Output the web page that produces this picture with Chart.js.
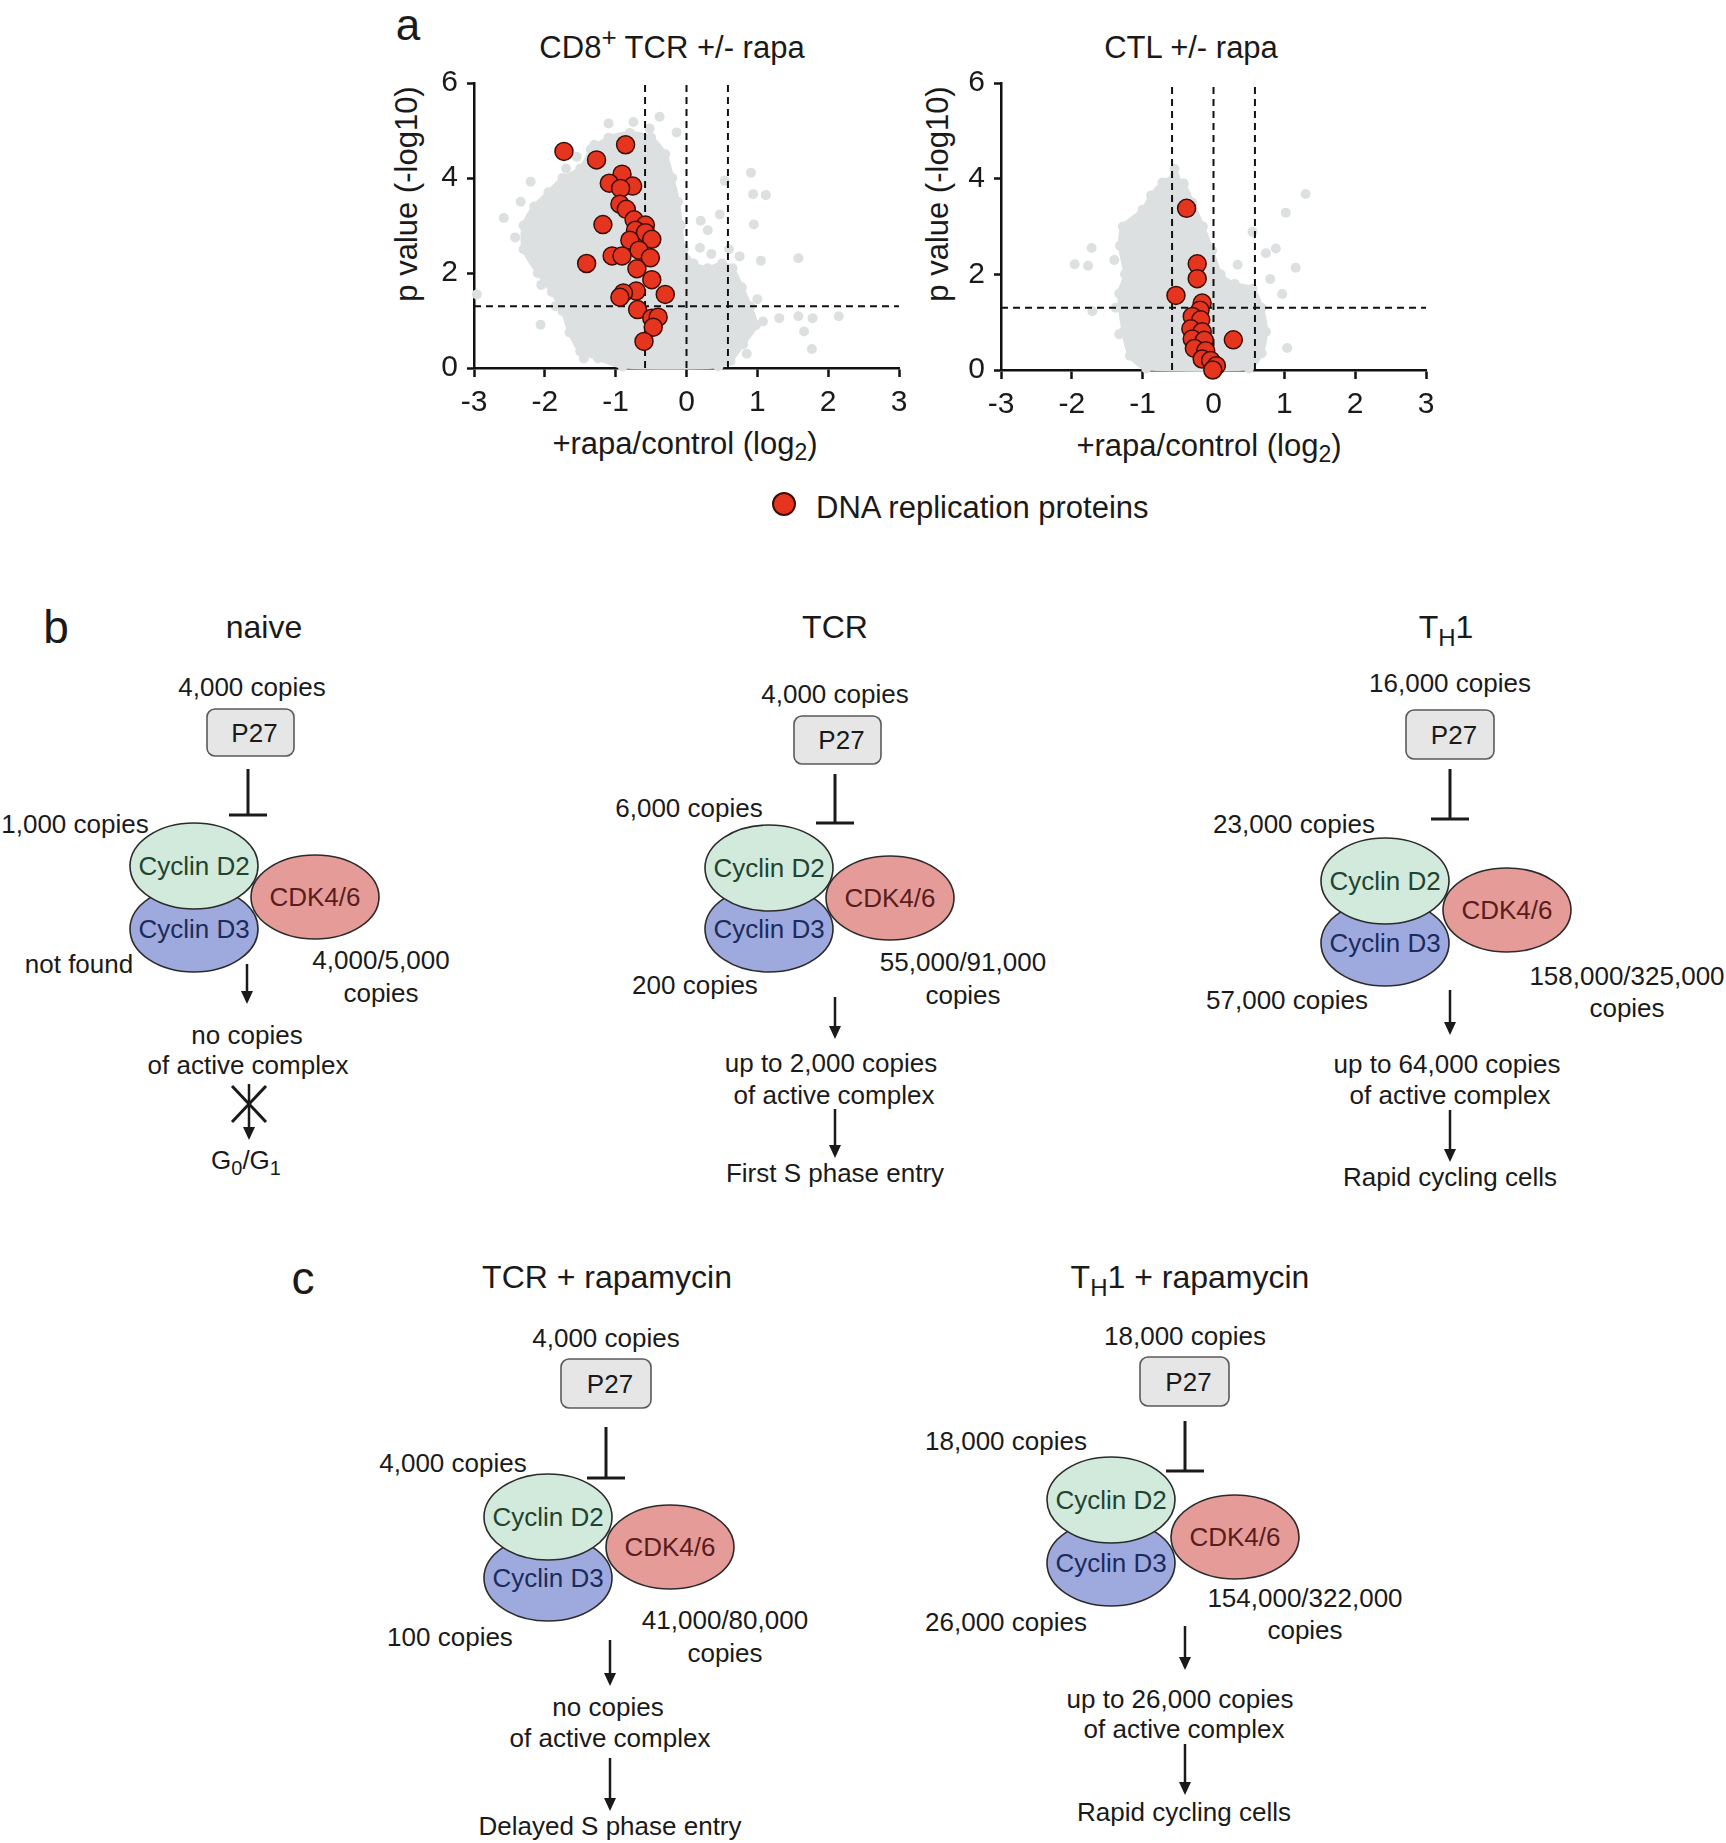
<!DOCTYPE html>
<html>
<head>
<meta charset="utf-8">
<script src="https://cdn.jsdelivr.net/npm/chart.js@4.4.1/dist/chart.umd.min.js"></script>
<style>
  html, body { margin: 0; padding: 0; background: #fff; }
  #page { position: relative; width: 1726px; height: 1843px; overflow: hidden; }
  #art { position: absolute; left: 0; top: 0; font-family: 'Liberation Sans', Arial, sans-serif; }
  canvas { position: absolute; }
</style>
</head>
<body>
<div id="page">
  <svg id="art" width="1726" height="1843"></svg>
  <canvas id="tcrPlot" width="600" height="470" style="left:330px;top:0"></canvas>
  <canvas id="ctlPlot" width="600" height="470" style="left:860px;top:0"></canvas>
</div>
<script>
// ---- volcano data (log2 ratio, -log10 p) ----
const xTickValues = [-3, -2, -1, 0, 1, 2, 3];
const yTickValues = [0, 2, 4, 6];
const foldCutoffs = [-0.585, 0, 0.585];
const pCutoff = 1.301;

// dense body of the grey protein cloud, traced round its edge
const tcrCloud = [
  [-1.35, 4.6], [-1.1, 4.85], [-0.8, 4.95], [-0.5, 4.85], [-0.3, 4.5], [-0.2, 4.0],
  [-0.12, 3.5], [-0.08, 3.0], [-0.04, 2.5], [0.1, 2.2], [0.3, 2.1], [0.5, 2.2],
  [0.65, 2.1], [0.78, 1.7], [0.9, 1.3], [0.98, 0.9], [0.8, 0.5], [0.62, 0.15],
  [0.45, 0.03], [-0.9, 0.03], [-1.25, 0.2], [-1.5, 0.35], [-1.65, 0.75], [-1.75, 1.2],
  [-1.9, 1.6], [-2.1, 2.0], [-2.3, 2.5], [-2.3, 3.0], [-2.15, 3.4], [-1.95, 3.7],
  [-1.75, 4.0], [-1.5, 4.2], [-1.35, 4.6],
];
const tcrScatter = [
  [-2.96, 1.55], [-2.58, 3.16], [-2.34, 3.5], [-2.2, 3.92], [-2.06, 0.91], [-1.62, 0.95],
  [-1.1, 5.15], [-0.75, 5.18], [-0.38, 5.29], [-0.52, 5.04], [-0.14, 4.96], [0.19, 2.53],
  [0.47, 3.23], [0.54, 3.94], [0.91, 4.11], [0.94, 3.66], [1.12, 3.64], [0.95, 3.02],
  [1.05, 2.26], [1.58, 2.31], [1.58, 1.09], [1.78, 1.05], [2.15, 1.09], [1.66, 0.77],
  [1.77, 0.4], [1.31, 1.05], [1.08, 0.98], [0.3, 2.9], [0.35, 2.4], [-1.7, 4.2],
  [-1.55, 4.45], [-1.3, 4.7], [0.2, 3.1], [0.6, 2.5], [0.75, 2.35], [-2.42, 2.75],
  [-2.05, 1.75], [-1.85, 1.3], [-1.45, 0.2], [1.0, 1.45], [0.85, 0.3],
];
const tcrReplication = [
  [-1.73, 4.56], [-1.27, 4.38], [-0.86, 4.7], [-0.91, 4.08], [-1.09, 3.89], [-0.76, 3.83],
  [-0.93, 3.78], [-0.94, 3.45], [-0.85, 3.34], [-0.74, 3.12], [-1.18, 3.02], [-0.58, 3.01],
  [-0.72, 2.9], [-0.58, 2.85], [-0.49, 2.71], [-0.8, 2.69], [-0.67, 2.48], [-0.51, 2.32],
  [-1.05, 2.36], [-0.91, 2.36], [-1.41, 2.2], [-0.7, 2.09], [-0.49, 1.86], [-0.71, 1.62],
  [-0.89, 1.58], [-0.94, 1.49], [-0.3, 1.55], [-0.69, 1.23], [-0.49, 1.05], [-0.4, 1.07],
  [-0.47, 0.86], [-0.6, 0.56],
];

const ctlCloud = [
  [-0.55, 4.05], [-0.42, 3.9], [-0.3, 3.5], [-0.15, 3.0], [-0.02, 2.5], [0.1, 2.0],
  [0.3, 1.8], [0.55, 1.7], [0.68, 1.3], [0.74, 0.8], [0.68, 0.35], [0.5, 0.03],
  [-0.95, 0.03], [-1.18, 0.3], [-1.27, 0.8], [-1.33, 1.6], [-1.25, 2.0], [-1.32, 2.6],
  [-1.28, 3.0], [-1.0, 3.35], [-0.88, 3.65], [-0.72, 3.92], [-0.55, 4.05],
];
const ctlScatter = [
  [-1.96, 2.21], [-1.77, 2.18], [-1.72, 2.55], [-1.71, 1.23], [-1.33, 0.75], [1.3, 3.68],
  [1.02, 3.29], [0.88, 2.54], [0.74, 2.44], [1.16, 2.14], [0.97, 1.59], [1.04, 0.46],
  [0.34, 2.2], [0.55, 2.89], [-0.55, 4.2], [-1.4, 2.3], [-1.38, 1.3], [0.8, 1.9],
];
const ctlReplication = [
  [-0.38, 3.38], [-0.23, 2.22], [-0.23, 1.91], [-0.53, 1.56], [-0.16, 1.4], [-0.19, 1.25],
  [-0.3, 1.12], [-0.18, 1.05], [-0.32, 0.86], [-0.16, 0.8], [-0.3, 0.65], [-0.13, 0.62],
  [-0.27, 0.45], [-0.11, 0.4], [-0.16, 0.23], [-0.04, 0.2], [0.04, 0.09], [-0.01, 0.0],
  [0.28, 0.63],
];

const INK = '#1a1a1a';
const GREY = '#dde0e1';
const RED = '#e6351f';
const FONT = "'Liberation Sans', Arial, sans-serif";

function toPoints(pairs) {
  return pairs.map(([x, y]) => ({ x, y }));
}

function createVolcano(canvas, cloud, scatter, replication, frame) {
  const dashed = {
    borderColor: '#111', borderWidth: 2, borderDash: [7, 5],
    pointRadius: 0, showLine: true, fill: false, order: 1,
  };
  const yTop = yTickValues[yTickValues.length - 1];
  const datasets = [
    {
      data: toPoints(replication), order: 0,
      pointBackgroundColor: RED, pointBorderColor: '#3d0c05', pointBorderWidth: 1.5, pointRadius: 9,
    },
    ...foldCutoffs.map((v) => ({ ...dashed, data: [{ x: v, y: 0 }, { x: v, y: yTop }] })),
    { ...dashed, data: [{ x: xTickValues[0], y: pCutoff }, { x: xTickValues[xTickValues.length - 1], y: pCutoff }] },
    {
      data: toPoints(scatter), order: 2,
      pointBackgroundColor: GREY, pointBorderWidth: 0, pointRadius: 5,
    },
    {
      data: toPoints(cloud), order: 3, showLine: true, fill: 'shape', tension: 0.25,
      backgroundColor: GREY, borderColor: GREY, borderWidth: 4,
      pointBackgroundColor: GREY, pointBorderWidth: 0, pointRadius: 5,
    },
  ];
  datasets.forEach((d) => { d.clip = false; });

  const tickFont = { family: FONT, size: 30 };
  return new Chart(canvas, {
    type: 'scatter',
    data: { datasets },
    options: {
      responsive: false,
      animation: false,
      events: [],
      layout: { padding: { top: 83, right: frame.right, left: 0, bottom: 0 } },
      plugins: { legend: { display: false }, tooltip: { enabled: false }, title: { display: false } },
      scales: {
        x: {
          type: 'linear',
          min: xTickValues[0],
          max: xTickValues[xTickValues.length - 1],
          afterBuildTicks(scale) { scale.ticks = xTickValues.map((value) => ({ value })); },
          afterFit(scale) { scale.height = frame.xHeight; },
          ticks: { font: tickFont, color: INK, padding: 8, callback: (v) => `${v}` },
          grid: { drawOnChartArea: false, drawTicks: true, tickLength: 9, tickWidth: 2.5, tickColor: '#111' },
          border: { display: true, width: 2.5, color: '#111' },
        },
        y: {
          type: 'linear',
          min: yTickValues[0],
          max: yTop,
          afterBuildTicks(scale) { scale.ticks = yTickValues.map((value) => ({ value })); },
          afterFit(scale) { scale.width = frame.yWidth; },
          ticks: { font: tickFont, color: INK, padding: 9, callback: (v) => `${v}` },
          grid: { drawOnChartArea: false, drawTicks: true, tickLength: 7, tickWidth: 2.5, tickColor: '#111' },
          border: { display: true, width: 2.5, color: '#111' },
        },
      },
    },
  });
}

createVolcano(document.getElementById('tcrPlot'), tcrCloud, tcrScatter, tcrReplication,
  { right: 31, yWidth: 144, xHeight: 102 });
createVolcano(document.getElementById('ctlPlot'), ctlCloud, ctlScatter, ctlReplication,
  { right: 34, yWidth: 141, xHeight: 100 });

// ---- figure text and schematic panels (svg) ----
const NS = 'http://www.w3.org/2000/svg';
const art = document.getElementById('art');

function el(tag, attrs, parent = art) {
  const node = document.createElementNS(NS, tag);
  Object.entries(attrs).forEach(([k, v]) => node.setAttribute(k, v));
  parent.appendChild(node);
  return node;
}

// "_{x}" is a subscript, "^{x}" a superscript
function addText(x, y, str, size, opts = {}) {
  const t = el('text', {
    x, y, 'font-size': size, 'text-anchor': opts.anchor || 'middle',
    fill: opts.color || INK, 'dominant-baseline': 'central',
  });
  if (opts.rotate) t.setAttribute('transform', `rotate(${opts.rotate} ${x} ${y})`);
  let off = 0;
  const seg = (s, target, scale) => {
    if (!s) return;
    const ts = el('tspan', {}, t);
    if (target - off) ts.setAttribute('dy', target - off);
    off = target;
    if (scale) ts.setAttribute('font-size', Math.round(size * scale));
    ts.textContent = s;
  };
  const re = /([_^])\{([^}]*)\}/g;
  let last = 0;
  let m;
  while ((m = re.exec(str))) {
    seg(str.slice(last, m.index), 0, 0);
    if (m[1] === '_') seg(m[2], size * 0.3, 0.75);
    else seg(m[2], -size * 0.32, 0.85);
    last = re.lastIndex;
  }
  seg(str.slice(last), 0, 0);
  return t;
}

function arrow(x, y1, y2) {
  el('line', { x1: x, y1, x2: x, y2: y2 - 8, stroke: INK, 'stroke-width': 2.5 });
  el('path', { d: `M${x - 6},${y2 - 13} L${x + 6},${y2 - 13} L${x},${y2} Z`, fill: INK });
}

// panel a text
addText(408, 24, 'a', 44);
addText(672, 47, 'CD8^{+} TCR +/- rapa', 31);
addText(1191, 47, 'CTL +/- rapa', 31);
addText(406, 194, 'p value (-log10)', 31, { rotate: -90 });
addText(937, 194, 'p value (-log10)', 31, { rotate: -90 });
addText(685, 443, '+rapa/control (log_{2})', 31);
addText(1209, 445, '+rapa/control (log_{2})', 31);
el('circle', { cx: 784, cy: 504, r: 11, fill: RED, stroke: '#3d0c05', 'stroke-width': 2 });
addText(816, 507, 'DNA replication proteins', 31, { anchor: 'start' });

addText(56, 627, 'b', 46);
addText(303, 1278, 'c', 46);

const diagrams = [
  {
    title: ['naive', 264, 627], box: [207, 709, 87, 47], inhibit: [248, 769, 815],
    d2: [194, 866], d3: [194, 929], cdk: [315, 897],
    labels: [
      ['4,000 copies', 252, 687], ['1,000 copies', 75, 824], ['not found', 79, 964],
      ['4,000/5,000', 381, 960], ['copies', 381, 993], ['no copies', 247, 1035],
      ['of active complex', 248, 1065], ['G_{0}/G_{1}', 246, 1160],
    ],
    arrows: [[247, 964, 1004], [249, 1084, 1140]], cross: [249, 1104],
  },
  {
    title: ['TCR', 835, 627], box: [794, 716, 87, 48], inhibit: [835, 774, 823],
    d2: [769, 868], d3: [769, 929], cdk: [890, 898],
    labels: [
      ['4,000 copies', 835, 694], ['6,000 copies', 689, 808], ['200 copies', 695, 985],
      ['55,000/91,000', 963, 962], ['copies', 963, 995], ['up to 2,000 copies', 831, 1063],
      ['of active complex', 834, 1095], ['First S phase entry', 835, 1173],
    ],
    arrows: [[835, 997, 1039], [835, 1109, 1158]],
  },
  {
    title: ['T_{H}1', 1446, 627], box: [1406, 710, 88, 49], inhibit: [1450, 769, 819],
    d2: [1385, 881], d3: [1385, 943], cdk: [1507, 910],
    labels: [
      ['16,000 copies', 1450, 683], ['23,000 copies', 1294, 824], ['57,000 copies', 1287, 1000],
      ['158,000/325,000', 1627, 976], ['copies', 1627, 1008], ['up to 64,000 copies', 1447, 1064],
      ['of active complex', 1450, 1095], ['Rapid cycling cells', 1450, 1177],
    ],
    arrows: [[1450, 990, 1035], [1450, 1110, 1162]],
  },
  {
    title: ['TCR + rapamycin', 607, 1277], box: [561, 1359, 90, 49], inhibit: [606, 1427, 1478],
    d2: [548, 1517], d3: [548, 1578], cdk: [670, 1547],
    labels: [
      ['4,000 copies', 606, 1338], ['4,000 copies', 453, 1463], ['100 copies', 450, 1637],
      ['41,000/80,000', 725, 1620], ['copies', 725, 1653], ['no copies', 608, 1707],
      ['of active complex', 610, 1738], ['Delayed S phase entry', 610, 1826],
    ],
    arrows: [[610, 1640, 1686], [610, 1758, 1811]],
  },
  {
    title: ['T_{H}1 + rapamycin', 1190, 1277], box: [1140, 1357, 89, 49], inhibit: [1185, 1421, 1471],
    d2: [1111, 1500], d3: [1111, 1563], cdk: [1235, 1537],
    labels: [
      ['18,000 copies', 1185, 1336], ['18,000 copies', 1006, 1441], ['26,000 copies', 1006, 1622],
      ['154,000/322,000', 1305, 1598], ['copies', 1305, 1630], ['up to 26,000 copies', 1180, 1699],
      ['of active complex', 1184, 1729], ['Rapid cycling cells', 1184, 1812],
    ],
    arrows: [[1185, 1626, 1670], [1185, 1744, 1795]],
  },
];

const ovalStyle = { stroke: '#2b2b2b', 'stroke-width': 1.6 };
diagrams.forEach((d) => {
  addText(d.title[1], d.title[2], d.title[0], 32);
  const [bx, by, bw, bh] = d.box;
  el('rect', { x: bx, y: by, width: bw, height: bh, rx: 8, fill: '#e6e6e6', stroke: '#5a5a5a', 'stroke-width': 1.6 });
  addText(bx + bw / 2 + 4, by + bh / 2, 'P27', 26);
  const [ix, iy1, iy2] = d.inhibit;
  el('line', { x1: ix, y1: iy1, x2: ix, y2: iy2, stroke: INK, 'stroke-width': 3 });
  el('line', { x1: ix - 19, y1: iy2, x2: ix + 19, y2: iy2, stroke: INK, 'stroke-width': 3 });

  el('ellipse', { cx: d.cdk[0], cy: d.cdk[1], rx: 64, ry: 42, fill: '#e59b97', ...ovalStyle });
  el('ellipse', { cx: d.d3[0], cy: d.d3[1], rx: 64, ry: 43, fill: '#9eaadd', ...ovalStyle });
  el('ellipse', { cx: d.d2[0], cy: d.d2[1], rx: 64, ry: 43, fill: '#d2eadb', ...ovalStyle });
  addText(d.d2[0], d.d2[1], 'Cyclin D2', 26, { color: '#1f4430' });
  addText(d.d3[0], d.d3[1], 'Cyclin D3', 26, { color: '#1c2a5c' });
  addText(d.cdk[0], d.cdk[1], 'CDK4/6', 26, { color: '#5a1c1c' });

  d.labels.forEach(([s, x, y]) => addText(x, y, s, 26));
  d.arrows.forEach(([x, y1, y2]) => arrow(x, y1, y2));
  if (d.cross) {
    const [cx, cy] = d.cross;
    el('line', { x1: cx - 17, y1: cy - 18, x2: cx + 17, y2: cy + 18, stroke: INK, 'stroke-width': 3 });
    el('line', { x1: cx + 17, y1: cy - 18, x2: cx - 17, y2: cy + 18, stroke: INK, 'stroke-width': 3 });
  }
});
</script>
</body>
</html>
